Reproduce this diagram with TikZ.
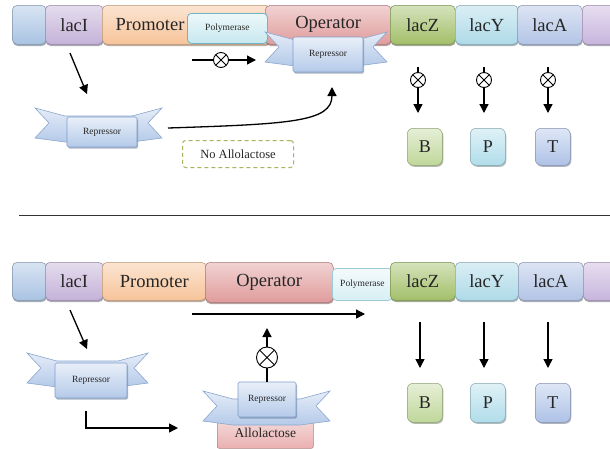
\documentclass[tikz,border=0pt]{standalone}
\usepackage{fontspec}
\setmainfont{Liberation Serif}
\usetikzlibrary{arrows.meta,shadows}
\definecolor{cBlueO}{HTML}{A9C3E3}
\definecolor{cLacI}{HTML}{C4B2D8}
\definecolor{cProm}{HTML}{F7C49A}
\definecolor{cOper}{HTML}{E09C9C}
\definecolor{cPoly}{HTML}{C6E8EF}
\definecolor{cPolyD}{HTML}{6FB5C6}
\definecolor{cLacZ}{HTML}{A2BF69}
\definecolor{cLacY}{HTML}{AEDAE8}
\definecolor{cLacA}{HTML}{B3C4E6}
\definecolor{cPurp}{HTML}{C8B5DD}
\definecolor{cB}{HTML}{BFD79A}
\definecolor{cP}{HTML}{B0DDEA}
\definecolor{cT}{HTML}{AEC2E7}
\definecolor{cRep}{HTML}{B4CAE9}
\definecolor{cRepD}{HTML}{7F9DCA}
\definecolor{cAllo}{HTML}{EAB0B0}
\definecolor{cDash}{HTML}{A6B45E}
\newcommand\myribbon[3]{%
  \draw[ribbon] ({#1-#3},{#2-15}) -- ({#1-#3+30},{#2-7}) -- ({#1+#3-30},{#2-7})
    -- ({#1+#3},{#2-15}) -- ({#1+#3-14},{#2}) -- ({#1+#3},{#2+15})
    -- ({#1+#3-30},{#2+19}) -- ({#1-#3+30},{#2+19}) -- ({#1-#3},{#2+15})
    -- ({#1-#3+14},{#2}) -- cycle;}
\begin{document}
\begin{tikzpicture}[x=1pt,y=-1pt,
  blk/.style={draw=#1!75!black, line width=0.5pt, rounded corners=5pt, inner sep=0pt,
    anchor=north west, top color=#1!45!white, bottom color=#1,
    drop shadow={shadow xshift=0.5pt,shadow yshift=-1.8pt,fill=#1!55!black,opacity=0.55},
    font=\fontsize{18.5}{20}\selectfont, text=black!85},
  prod/.style={draw=#1!75!black, line width=0.5pt, rounded corners=6pt, inner sep=0pt,
    anchor=north west, top color=#1!40!white, bottom color=#1,
    drop shadow={shadow xshift=1pt,shadow yshift=-1.5pt,fill=#1!55!black,opacity=0.5},
    font=\fontsize{18}{20}\selectfont, text=black!85},
  poly/.style={draw=cPolyD, line width=0.8pt, rounded corners=4pt, inner sep=0pt,
    anchor=north west, top color=cPoly!30!white, bottom color=cPoly,
    font=\fontsize{9.5}{11}\selectfont, text=black!85},
  ribbon/.style={draw=cRepD!90!white, line width=0.6pt, top color=cRep!35!white, bottom color=cRep},
  rep/.style={draw=cRepD, line width=0.6pt, rounded corners=1.5pt, inner sep=0pt,
    top color=cRep!30!white, bottom color=cRep,
    drop shadow={shadow xshift=1pt,shadow yshift=-1.5pt,fill=cRepD!70!black,opacity=0.5},
    font=\fontsize{9.5}{11}\selectfont, text=black!85},
  lbl/.style={inner sep=0pt, font=\fontsize{18.5}{20}\selectfont, text=black!85},
  ln/.style={line width=1.3pt},
  arr/.style={line width=1.3pt, -{Triangle[length=9pt,width=9pt]}},
  otimes/.style={circle, draw, line width=0.9pt, inner sep=0pt, minimum size=#1,
    path picture={\draw[line width=0.9pt] (path picture bounding box.north west) -- (path picture bounding box.south east)
      (path picture bounding box.south west) -- (path picture bounding box.north east);}},
  otimes/.default=15pt]
\clip (0,0) rectangle (610,448);
\fill[white] (0,0) rectangle (610,448);

% ---------------- top row ----------------
\node[blk=cBlueO, minimum width=34pt, minimum height=39pt] (tA) at (12,5) {};
\node[blk=cLacI, minimum width=58pt, minimum height=39pt] (tI) at (45,5) {lacI};
\node[blk=cProm, minimum width=168pt, minimum height=39pt] (tP) at (102,5) {};
\node[lbl] (tPt) at (150,25) {Promoter};
\node[blk=cOper, minimum width=126pt, minimum height=39pt] (tO) at (265,5) {Operator};
\node[blk=cLacZ, minimum width=65pt, minimum height=39pt] (tZ) at (390,5) {lacZ};
\node[blk=cLacY, minimum width=63pt, minimum height=39pt] (tY) at (455,5) {lacY};
\node[blk=cLacA, minimum width=65pt, minimum height=39pt] (tLA) at (517,5) {lacA};
\node[blk=cPurp, minimum width=40pt, minimum height=39pt] (tE) at (582,5) {};
\node[poly, minimum width=80pt, minimum height=30pt] (tPol) at (187,13) {Polymerase};

% repressor on operator
\myribbon{326}{47}{61}
\node[rep, minimum width=70pt, minimum height=35pt] (tR1) at (328,54.5) {Repressor};

% transcription blocked arrow
\coordinate (th1) at (192,60);
\node[otimes] (tx1) at (221,60) {};
\coordinate (th2) at (256,60);
\draw[ln] (th1) -- (tx1);
\draw[arr] (tx1) -- (th2);

% lacI -> repressor
\coordinate (tl1) at (70,53);
\coordinate (tl2) at (87,94);
\draw[arr] (tl1) -- (tl2);

% free repressor
\myribbon{98.5}{123}{63.5}
\node[rep, minimum width=70pt, minimum height=30pt] (tR2) at (102,132) {Repressor};

% curved arrow
\coordinate (tc1) at (168,128);
\coordinate (tc2) at (332,87);
\draw[arr] (tc1) .. controls (290,124) and (332,122) .. (tc2);

% no allolactose
\node[draw=cDash, dashed, line width=1pt, dash pattern=on 4pt off 3pt, rounded corners=3pt,
  minimum width=111pt, minimum height=27pt, inner sep=0pt, anchor=north west,
  font=\fontsize{12.5}{14}\selectfont, text=black!85] (tNA) at (182,140) {No Allolactose};

% blocked translation arrows
\foreach \x/\n in {418/a,484/b,548/c}{
  \coordinate (tv\n1) at (\x,67);
  \node[otimes] (tvx\n) at (\x,80) {};
  \coordinate (tv\n2) at (\x,113);
  \draw[ln] (tv\n1) -- (tvx\n);
  \draw[arr] (tvx\n) -- (tv\n2);
}
\node[prod=cB, minimum width=35pt, minimum height=37pt] (tB) at (407,128) {B};
\node[prod=cP, minimum width=35pt, minimum height=37pt] (tPp) at (470,128) {P};
\node[prod=cT, minimum width=35pt, minimum height=37pt] (tT) at (535,128) {T};

% divider
\coordinate (d1) at (19,215);
\coordinate (d2) at (610,215);
\draw[line width=1pt, black!80] (d1) -- (d2);

% ---------------- bottom row ----------------
\node[blk=cBlueO, minimum width=34pt, minimum height=38pt] (bA) at (12,262) {};
\node[blk=cLacI, minimum width=58pt, minimum height=38pt] (bI) at (45,262) {lacI};
\node[blk=cProm, minimum width=104pt, minimum height=38pt] (bP) at (102,262) {Promoter};
\node[blk=cOper, minimum width=128pt, minimum height=40pt] (bO) at (205,262) {Operator};
\node[poly, draw=cPolyD!70!white, top color=cPoly!20!white, bottom color=cPoly!70!white,
  minimum width=60pt, minimum height=32pt] (bPol) at (332,268) {Polymerase};
\node[blk=cLacZ, minimum width=65pt, minimum height=38pt] (bZ) at (390,262) {lacZ};
\node[blk=cLacY, minimum width=63pt, minimum height=38pt] (bY) at (455,262) {lacY};
\node[blk=cLacA, minimum width=65pt, minimum height=38pt] (bLA) at (518,262) {lacA};
\node[blk=cPurp, minimum width=40pt, minimum height=38pt] (bE) at (583,262) {};

% transcription arrow
\coordinate (bh1) at (192,314);
\coordinate (bh2) at (365,314);
\draw[arr] (bh1) -- (bh2);

% lacI -> repressor
\coordinate (bl1) at (70,310);
\coordinate (bl2) at (87,349);
\draw[arr] (bl1) -- (bl2);

% free repressor
\myribbon{87.5}{368}{60.5}
\node[rep, minimum width=72pt, minimum height=35pt] (bR1) at (91,380.5) {Repressor};

% elbow arrow
\coordinate (be1) at (86,411);
\coordinate (be2) at (178,428);
\draw[arr] (be1) |- (be2);

% repressor bound to allolactose
\node[draw=cAllo!75!black, line width=0.6pt, rounded corners=2pt, inner sep=0pt, anchor=north west,
  top color=cAllo!45!white, bottom color=cAllo, minimum width=96pt, minimum height=30pt,
  font=\fontsize{13.5}{15}\selectfont, text=black!85, text depth=-8pt] (bAl) at (217,418) {Allolactose};
\myribbon{266.5}{406}{63.5}
\node[rep, minimum width=58pt, minimum height=35pt] (bR2) at (267,399.5) {Repressor};

% blocked binding arrow
\coordinate (bu1) at (267,382);
\node[otimes=21pt] (bux) at (267,357.5) {};
\coordinate (bu2) at (267,328);
\draw[ln] (bu1) -- (bux);
\draw[arr] (bux) -- (bu2);

% translation arrows
\foreach \x/\n in {420/a,484/b,548/c}{
  \coordinate (bv\n1) at (\x,322);
  \coordinate (bv\n2) at (\x,368);
  \draw[arr] (bv\n1) -- (bv\n2);
}
\node[prod=cB, minimum width=35pt, minimum height=39pt] (bB) at (407,383) {B};
\node[prod=cP, minimum width=35pt, minimum height=39pt] (bPp) at (470,383) {P};
\node[prod=cT, minimum width=35pt, minimum height=39pt] (bT) at (535,383) {T};
\end{tikzpicture}
\end{document}
